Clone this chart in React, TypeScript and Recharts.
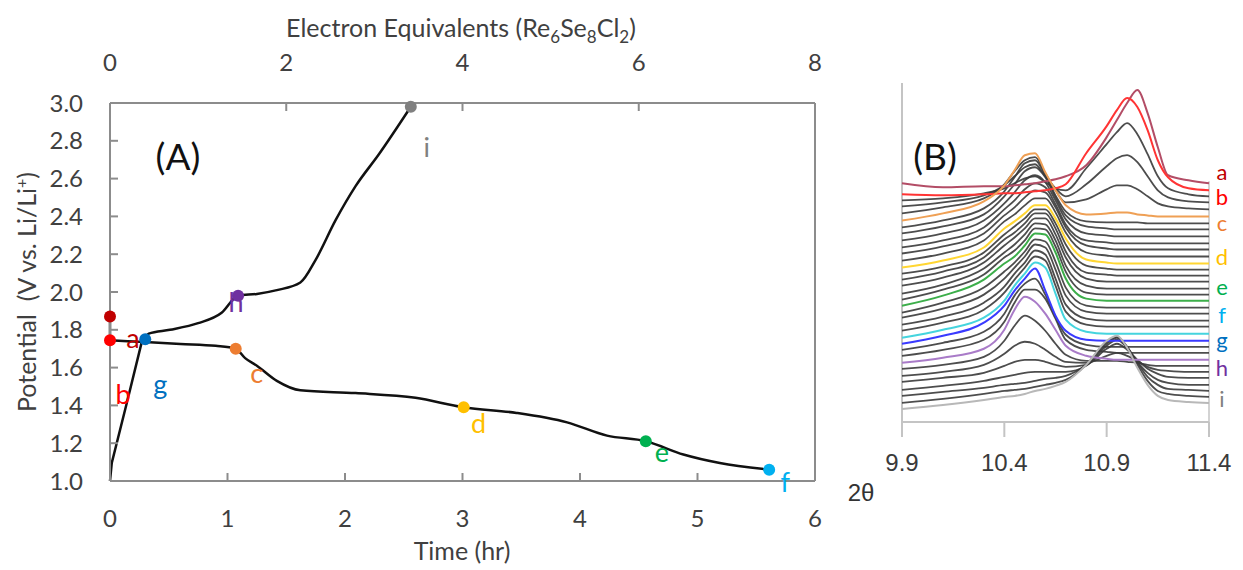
import { ComposedChart, LineChart, Line, Scatter, XAxis, YAxis, ReferenceLine } from "recharts";

// ---------- panel A: galvanostatic profile ----------
const ocvTime = [0, 0];
const ocvPotential = [1.87, 1.745];

const dischargeTime = [0, 0.3, 0.6, 0.9, 1.07, 1.15, 1.25, 1.42, 1.62, 2.09, 2.6, 3.01, 3.46, 3.89, 4.23, 4.56, 4.88, 5.19, 5.61];
const dischargePotential = [1.745, 1.735, 1.725, 1.715, 1.7, 1.65, 1.61, 1.53, 1.48, 1.465, 1.44, 1.39, 1.36, 1.31, 1.24, 1.21, 1.14, 1.095, 1.06];

// first four points are the straight initial rise, the rest is the smooth charge branch
const chargeTime = [0, 0.015, 0.145, 0.27, 0.33, 0.51, 0.75, 0.95, 1.09, 1.25, 1.42, 1.62, 1.75, 1.92, 2.09, 2.29, 2.56];
const chargePotential = [1.0, 1.095, 1.418, 1.735, 1.78, 1.8, 1.835, 1.89, 1.98, 1.99, 2.01, 2.05, 2.17, 2.38, 2.56, 2.73, 2.98];

const pointNames = ["a", "b", "g", "h", "c", "d", "e", "f", "i"];
const pointTime = [0, 0, 0.3, 1.09, 1.07, 3.01, 4.56, 5.61, 2.56];
const pointPotential = [1.87, 1.745, 1.75, 1.98, 1.7, 1.39, 1.21, 1.06, 2.98];

const timeTicks = [0, 1, 2, 3, 4, 5, 6];
const electronTicks = [0, 2, 4, 6, 8];
const potentialTicks = [1.0, 1.2, 1.4, 1.6, 1.8, 2.0, 2.2, 2.4, 2.6, 2.8, 3.0];

// ---------- panel B: stacked XRD scans ----------
const twoTheta = [9.9, 10.1, 10.3, 10.4, 10.45, 10.5, 10.55, 10.6, 10.65, 10.7, 10.8, 10.9, 10.95, 11.0, 11.05, 11.1, 11.15, 11.2, 11.3, 11.4];
const thetaTicks = [9.9, 10.4, 10.9, 11.4];

const scanNames = [
  "a", "b", "b1", "b2", "b3", "c", "c1", "c2", "c3", "c4", "c5", "c6",
  "d", "d1", "d2", "d3", "d4", "d5", "e", "e1", "e2", "e3", "e4",
  "f", "g", "g1", "g2", "h", "h1", "h2", "h3", "h4", "h5", "h6", "i",
];
const scanOffsets = [
  238, 231, 225, 219, 212, 205, 198, 192, 185, 178, 172, 165,
  158, 152, 146, 140, 133, 127, 121, 114, 108, 101, 95,
  88, 81, 75, 69, 62, 56, 50, 44, 37, 31, 25, 19,
];
const scanIntensity: number[][] = [
  [0, -4, -3, -3, -2, -1, 0, 2, 4, 7, 18, 46, 63, 80, 93, 70, 36, 8, 3, 0],
  [-4, -5, -4, -3, -3, -2, -1, 0, 2, 6, 37, 64, 80, 92, 83, 60, 30, 13, 2, 0],
  [-4, -2, 3, 8, 13, 18, 20, 14, 8, 6, 28, 52, 64, 73, 62, 42, 20, 8, 2, 0],
  [-4, 0, 7, 17, 26, 35, 38, 26, 14, 6, 18, 36, 44, 47, 40, 26, 12, 5, 1, 0],
  [-4, 2, 11, 25, 38, 49, 52, 36, 19, 7, 10, 20, 24, 24, 20, 13, 6, 3, 1, 0],
  [-4, 3, 15, 31, 46, 61, 63, 44, 26, 11, 2, 3, 4, 4, 2, 1, 0, 0, 0, 0],
  [-4, 3, 15, 32, 46, 60, 63, 48, 28, 12, 2, 1, 1, 1, 1, 0, 0, 0, 0, 0],
  [-4, 3, 15, 33, 45, 58, 62, 52, 32, 14, 3, 1, 0, 0, 0, 0, 0, 0, 0, 0],
  [-4, 3, 16, 33, 44, 56, 61, 54, 36, 17, 3, 1, 0, 0, 0, 0, 0, 0, 0, 0],
  [-4, 3, 16, 34, 43, 54, 60, 56, 39, 19, 3, 1, 0, 0, 0, 0, 0, 0, 0, 0],
  [-4, 3, 16, 34, 42, 52, 59, 57, 42, 22, 4, 1, 0, 0, 0, 0, 0, 0, 0, 0],
  [-4, 3, 16, 35, 42, 51, 58, 58, 44, 24, 4, 1, 0, 0, 0, 0, 0, 0, 0, 0],
  [-4, 3, 16, 35, 42, 50, 58, 58, 45, 25, 4, 1, 0, 0, 0, 0, 0, 0, 0, 0],
  [-4, 3, 17, 35, 43, 51, 60, 60, 46, 25, 4, 1, 0, 0, 0, 0, 0, 0, 0, 0],
  [-4, 4, 18, 36, 43, 52, 62, 62, 47, 24, 3, 1, 0, 0, 0, 0, 0, 0, 0, 0],
  [-4, 4, 19, 36, 44, 53, 63, 63, 47, 24, 3, 0, 0, 0, 0, 0, 0, 0, 0, 0],
  [-5, 4, 20, 36, 44, 54, 65, 64, 48, 23, 3, 0, 0, 0, 0, 0, 0, 0, 0, 0],
  [-5, 5, 20, 37, 44, 54, 66, 65, 48, 23, 2, 0, 0, 0, 0, 0, 0, 0, 0, 0],
  [-5, 5, 21, 37, 44, 55, 67, 66, 48, 22, 2, 0, 0, 0, 0, 0, 0, 0, 0, 0],
  [-5, 5, 20, 36, 45, 56, 68, 66, 46, 20, 2, 0, 0, 0, 0, 0, 0, 0, 0, 0],
  [-4, 5, 19, 35, 46, 57, 69, 66, 44, 18, 2, 0, 0, 0, 0, 0, 0, 0, 0, 0],
  [-4, 4, 18, 34, 47, 58, 70, 66, 42, 16, 2, 0, 0, 0, 0, 0, 0, 0, 0, 0],
  [-4, 4, 17, 34, 47, 59, 70, 66, 41, 15, 2, 0, 0, 0, 0, 0, 0, 0, 0, 0],
  [-4, 4, 16, 33, 48, 60, 71, 66, 40, 14, 2, 0, 0, 0, 0, 0, 0, 0, 0, 0],
  [-3, 5, 18, 35, 50, 62, 72, 50, 25, 10, 1, 0, 0, 0, 0, 0, 0, 0, 0, 0],
  [-3, 4, 15, 33, 51, 63, 68, 52, 30, 12, 2, 0, 0, 0, 0, 0, 0, 0, 0, 0],
  [-3, 3, 13, 31, 50, 63, 63, 54, 34, 13, 3, 1, 0, 0, 0, 0, 0, 0, 0, 0],
  [-3, 2, 11, 30, 50, 63, 58, 46, 30, 14, 4, 1, 0, 0, 0, 0, 0, 0, 0, 0],
  [-3, 1, 9, 25, 40, 50, 45, 35, 22, 11, 5, 5, 5, 4, 3, 1, 0, 0, 0, 0],
  [-4, 0, 7, 18, 26, 30, 28, 22, 15, 10, 9, 16, 19, 16, 11, 5, 2, 1, 0, 0],
  [-4, 0, 5, 12, 16, 18, 18, 16, 13, 11, 13, 29, 34, 28, 18, 9, 4, 1, 0, 0],
  [-5, -1, 4, 8, 10, 12, 13, 13, 13, 13, 19, 39, 45, 37, 23, 12, 5, 2, 0, 0],
  [-5, -1, 3, 6, 7, 8, 10, 12, 13, 15, 26, 47, 53, 44, 28, 14, 6, 2, 1, 0],
  [-6, -2, 3, 6, 7, 8, 10, 12, 14, 17, 32, 55, 60, 50, 32, 16, 6, 3, 1, 0],
  [-6, -2, 3, 6, 7, 9, 12, 14, 17, 21, 38, 62, 67, 55, 35, 18, 7, 3, 1, 0],
];

// ---------- styles ----------
const FONT_A = "Lato, 'Open Sans', sans-serif";
const FONT_B = "'Liberation Sans', Arial, sans-serif";
const AXIS_A = "#8c8c8c";
const AXIS_B = "#c4c4c4";

const MARK_COLOR: Record<string, string> = {
  a: "#c00000", b: "#ff0000", c: "#ed7d31", d: "#ffc000", e: "#00b050",
  f: "#00b0f0", g: "#0070c0", h: "#7030a0", i: "#808080",
};
// letter position relative to its marker (dx, baseline dy)
const LABEL_OFFSET: Record<string, [number, number]> = {
  a: [23, 31], b: [13, 64], g: [15, 55], h: [-2, 16], c: [21, 34],
  d: [15, 26], e: [16, 21], f: [16, 22], i: [16, 50],
};
const TRACE_COLOR: Record<string, string> = {
  a: "#b34d66", b: "#ff3434", c: "#efa055", d: "#ffd633", e: "#3cae4a",
  f: "#45d4de", g: "#3a3aff", h: "#a97bc8", i: "#b8b8b8",
};
const SIDE_LETTER_Y: Record<string, number> = {
  a: 180, b: 205, c: 231, d: 265, e: 295, f: 323, g: 348, h: 376, i: 407,
};

const ocvData = ocvTime.map((t, k) => ({ t, v: ocvPotential[k] }));
const dischargeData = dischargeTime.map((t, k) => ({ t, v: dischargePotential[k] }));
const chargeData = chargeTime.map((t, k) => ({ t, v: chargePotential[k] }));
const chargeRise = chargeData.slice(0, 4);
const chargeBranch = chargeData.slice(3);
const markerData = pointNames.map((name, k) => ({ name, t: pointTime[k], v: pointPotential[k] }));
const electronFrame = electronTicks.map((e) => ({ e, v: 3 }));

const scanTable = twoTheta.map((tt, j) => {
  const row: Record<string, number> = { tt };
  scanNames.forEach((n, k) => {
    row[n] = scanOffsets[k] + scanIntensity[k][j];
  });
  return row;
});

function renderMarker(props: any) {
  const { cx, cy, payload } = props;
  const color = MARK_COLOR[payload.name];
  const [dx, dy] = LABEL_OFFSET[payload.name];
  return (
    <g>
      <circle cx={cx} cy={cy} r={6} fill={color} />
      <text x={cx + dx} y={cy + dy} textAnchor="middle" fontSize={27} fontFamily={FONT_A} fill={color}>
        {payload.name}
      </text>
    </g>
  );
}

const tickA = { fill: "#404040", fontSize: 24, fontFamily: FONT_A };
const axisLineA = { stroke: AXIS_A, strokeWidth: 2 };

function PanelA() {
  return (
    <ComposedChart width={850} height={570} margin={{ top: 63, right: 35, bottom: 49, left: 50 }}>
      <XAxis
        xAxisId="time"
        dataKey="t"
        type="number"
        domain={[0, 6]}
        ticks={timeTicks}
        interval={0}
        height={40}
        tickSize={-8}
        tickMargin={37}
        axisLine={axisLineA}
        tickLine={axisLineA}
        tick={tickA}
      />
      <XAxis
        xAxisId="ee"
        dataKey="e"
        orientation="top"
        type="number"
        domain={[0, 8]}
        ticks={electronTicks}
        interval={0}
        height={40}
        tickSize={-8}
        tickMargin={40}
        axisLine={axisLineA}
        tickLine={axisLineA}
        tick={tickA}
      />
      <YAxis
        dataKey="v"
        type="number"
        domain={[1, 3]}
        ticks={potentialTicks}
        interval={0}
        width={60}
        tickSize={-8}
        tickMargin={35}
        axisLine={axisLineA}
        tickLine={axisLineA}
        tick={tickA}
        tickFormatter={(v: number) => v.toFixed(1)}
      />
      <ReferenceLine xAxisId="time" x={6} stroke={AXIS_A} strokeWidth={2} />
      <Line xAxisId="ee" data={electronFrame} dataKey="v" type="linear" stroke="none" dot={false} activeDot={false} isAnimationActive={false} />
      <Line xAxisId="time" data={ocvData} dataKey="v" type="linear" stroke="#111" strokeWidth={2.5} dot={false} isAnimationActive={false} />
      <Line xAxisId="time" data={dischargeData} dataKey="v" type="monotone" stroke="#111" strokeWidth={2.5} dot={false} isAnimationActive={false} />
      <Line xAxisId="time" data={chargeRise} dataKey="v" type="linear" stroke="#111" strokeWidth={2.5} dot={false} isAnimationActive={false} />
      <Line xAxisId="time" data={chargeBranch} dataKey="v" type="monotone" stroke="#111" strokeWidth={2.5} dot={false} isAnimationActive={false} />
      <Scatter xAxisId="time" data={markerData} dataKey="v" shape={renderMarker} isAnimationActive={false} />
    </ComposedChart>
  );
}

function PanelB() {
  const black = scanNames.filter((n) => !TRACE_COLOR[n]);
  const colored = scanNames.filter((n) => TRACE_COLOR[n]);
  return (
    <LineChart width={393} height={570} data={scanTable} margin={{ top: 83, right: 34, bottom: 88, left: 52 }}>
      <XAxis
        dataKey="tt"
        type="number"
        domain={[9.9, 11.4]}
        ticks={thetaTicks}
        interval={0}
        height={60}
        tickSize={15}
        tickMargin={17}
        axisLine={{ stroke: AXIS_B, strokeWidth: 2 }}
        tickLine={{ stroke: AXIS_B, strokeWidth: 2 }}
        tick={{ fill: "#3a3a3a", fontSize: 24, fontFamily: FONT_B }}
        tickFormatter={(v: number) => v.toFixed(1)}
      />
      <YAxis hide type="number" domain={[0, 338]} />
      <ReferenceLine x={9.9} stroke={AXIS_B} strokeWidth={2} />
      <ReferenceLine segment={[{ x: 11.4, y: 0 }, { x: 11.4, y: 240 }]} stroke={AXIS_B} strokeWidth={1.5} />
      {black.map((n) => (
        <Line key={n} dataKey={n} type="monotone" stroke="#3a3a3a" strokeOpacity={0.9} strokeWidth={1.8} dot={false} activeDot={false} isAnimationActive={false} />
      ))}
      {colored.map((n) => (
        <Line key={n} dataKey={n} type="monotone" stroke={TRACE_COLOR[n]} strokeWidth={2} dot={false} activeDot={false} isAnimationActive={false} />
      ))}
    </LineChart>
  );
}

export default function App() {
  return (
    <div style={{ position: "absolute", left: 0, top: 0, width: 1243, height: 570, background: "#fff" }}>
      <div style={{ position: "absolute", left: 0, top: 0 }}>
        <PanelA />
      </div>
      <div style={{ position: "absolute", left: 850, top: 0 }}>
        <PanelB />
      </div>
      <svg width={1243} height={570} style={{ position: "absolute", left: 0, top: 0, pointerEvents: "none" }}>
        <text x={461} y={37} textAnchor="middle" fontSize={25} fontFamily={FONT_A} fill="#404040">
          Electron Equivalents (Re
          <tspan dy={6} fontSize={17}>6</tspan>
          <tspan dy={-6}>Se</tspan>
          <tspan dy={6} fontSize={17}>8</tspan>
          <tspan dy={-6}>Cl</tspan>
          <tspan dy={6} fontSize={17}>2</tspan>
          <tspan dy={-6}>)</tspan>
        </text>
        <text x={462} y={560} textAnchor="middle" fontSize={25} fontFamily={FONT_A} fill="#404040">
          Time (hr)
        </text>
        <text
          x={36}
          y={292}
          transform="rotate(-90 36 292)"
          textAnchor="middle"
          fontSize={25}
          fontFamily={FONT_A}
          fill="#404040"
          style={{ whiteSpace: "pre" }}
        >
          {"Potential  (V vs. Li/Li"}
          <tspan dy={-9} fontSize={16}>+</tspan>
          <tspan dy={9}>)</tspan>
        </text>
        <text x={178} y={170} textAnchor="middle" fontSize={37} fontFamily={FONT_A} fill="#111">
          (A)
        </text>
        <text x={935} y={170} textAnchor="middle" fontSize={37} fontFamily={FONT_A} fill="#111">
          (B)
        </text>
        <text x={861} y={501} textAnchor="middle" fontSize={24} fontFamily={FONT_B} fill="#333">
          2θ
        </text>
        {pointNames.map((n) => (
          <text key={n} x={1222} y={SIDE_LETTER_Y[n]} textAnchor="middle" fontSize={22} fontFamily={FONT_A} fill={MARK_COLOR[n]}>
            {n}
          </text>
        ))}
      </svg>
    </div>
  );
}
